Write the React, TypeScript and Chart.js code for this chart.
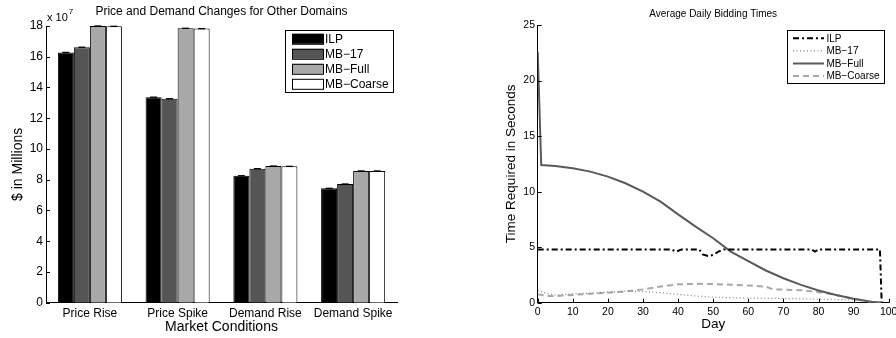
import React, { useEffect, useRef } from "react";
import { Chart, registerables } from "chart.js";

Chart.register(...registerables);

// ---------- Left chart data (values in units of 10^7 $) ----------
const categories = ["Price Rise", "Price Spike", "Demand Rise", "Demand Spike"];
const seriesNames = ["ILP", "MB\u221217", "MB\u2212Full", "MB\u2212Coarse"];
const ilpValues = [16.28, 13.37, 8.26, 7.44];
const mb17Values = [16.62, 13.27, 8.72, 7.72];
const mbFullValues = [18.0, 17.85, 8.89, 8.57];
const mbCoarseValues = [17.98, 17.83, 8.87, 8.57];
const barYTicks = [0, 2, 4, 6, 8, 10, 12, 14, 16, 18];

// ---------- Right chart data ----------
const ilpDays = [0, 38, 39.5, 41, 46, 47, 48.5, 50, 51.5, 53, 78, 79, 80, 97.5, 98];
const ilpTimes = [4.8, 4.8, 4.6, 4.8, 4.8, 4.35, 4.2, 4.3, 4.6, 4.8, 4.8, 4.6, 4.8, 4.8, 0];
const mb17Days = [0, 3, 5, 10, 15, 20, 25, 30, 35, 40, 45, 50, 55, 60, 70, 80, 90, 95, 98];
const mb17Times = [1.1, 0.8, 0.7, 0.8, 0.85, 0.95, 1.05, 1.0, 0.9, 0.75, 0.6, 0.5, 0.45, 0.42, 0.38, 0.32, 0.25, 0.1, 0];
const mbFullDays = [0, 1, 5, 10, 15, 20, 25, 30, 35, 40, 45, 50, 55, 60, 65, 70, 75, 80, 85, 90, 95, 98];
const mbFullTimes = [22.6, 12.4, 12.3, 12.1, 11.8, 11.35, 10.75, 10.0, 9.1, 7.95, 6.85, 5.8, 4.6, 3.75, 2.9, 2.2, 1.6, 1.1, 0.7, 0.35, 0.08, 0];
const mbCoarseDays = [0, 3, 5, 10, 15, 20, 25, 30, 35, 40, 45, 50, 55, 60, 65, 67, 70, 75, 80, 85, 90, 95, 98];
const mbCoarseTimes = [0.75, 0.6, 0.6, 0.7, 0.8, 0.9, 1.0, 1.2, 1.45, 1.65, 1.7, 1.68, 1.62, 1.55, 1.45, 1.2, 1.18, 1.12, 0.95, 0.7, 0.35, 0.06, 0];
const lineXTicks = [0, 10, 20, 30, 40, 50, 60, 70, 80, 90, 100];
const lineYTicks = [0, 5, 10, 15, 20, 25];

// ---------- Styles ----------
const FONT = "'Liberation Sans', Arial, Helvetica, sans-serif";
const barColors = ["#000000", "#555555", "#a8a8a8", "#ffffff"];
const lineColors = ["#000000", "#808080", "#5a5a5a", "#a8a8a8"];
const lineDashes = [[6, 3, 2, 3], [1, 2.5], [], [6, 4]];
const lineWidths = [2, 1.2, 2, 2];

const W = 896;
const H = 338;

function toPoints(xs: number[], ys: number[]) {
  return xs.map((x, i) => ({ x, y: ys[i] }));
}

function drawInwardTicks(chart: any, xTicks: number[] | null, yTicks: number[]) {
  const { ctx, chartArea, scales } = chart;
  ctx.save();
  ctx.strokeStyle = "#000";
  ctx.lineWidth = 1;
  ctx.beginPath();
  for (const v of yTicks) {
    const y = Math.round(scales.y.getPixelForValue(v)) + 0.5;
    ctx.moveTo(chartArea.left, y);
    ctx.lineTo(chartArea.left + 4, y);
  }
  if (xTicks) {
    for (const v of xTicks) {
      const x = Math.round(scales.x.getPixelForValue(v)) + 0.5;
      ctx.moveTo(x, chartArea.bottom);
      ctx.lineTo(x, chartArea.bottom - 4);
    }
  }
  ctx.stroke();
  ctx.restore();
}

const leftExtras = {
  id: "leftExtras",
  afterDatasetsDraw(chart: any) {
    const { ctx } = chart;
    ctx.save();
    ctx.strokeStyle = "#000";
    ctx.lineWidth = 1.3;
    chart.data.datasets.forEach((_: any, di: number) => {
      const meta = chart.getDatasetMeta(di);
      meta.data.forEach((bar: any) => {
        ctx.beginPath();
        ctx.moveTo(bar.x - 3.5, bar.y);
        ctx.lineTo(bar.x + 3.5, bar.y);
        ctx.stroke();
      });
    });
    ctx.restore();
  },
  afterDraw(chart: any) {
    const { ctx, chartArea } = chart;
    drawInwardTicks(chart, null, barYTicks);
    // exponent label
    ctx.save();
    ctx.fillStyle = "#000";
    ctx.textBaseline = "alphabetic";
    ctx.textAlign = "left";
    ctx.font = `11px ${FONT}`;
    const base = "x 10";
    ctx.fillText(base, chartArea.left + 1, 21);
    const bw = ctx.measureText(base).width;
    ctx.font = `8px ${FONT}`;
    ctx.fillText("7", chartArea.left + 1 + bw + 1, 14);
    // legend
    const lx = 285.5, ly = 30.5, lw = 108, lh = 62;
    ctx.fillStyle = "#fff";
    ctx.fillRect(lx, ly, lw, lh);
    ctx.strokeStyle = "#000";
    ctx.lineWidth = 1;
    ctx.strokeRect(lx, ly, lw, lh);
    ctx.font = `12px ${FONT}`;
    ctx.textBaseline = "middle";
    chart.data.datasets.forEach((ds: any, i: number) => {
      const cy = 38.8 + i * 15;
      ctx.fillStyle = ds.backgroundColor;
      ctx.fillRect(292, cy - 5, 31, 10);
      ctx.strokeStyle = "#000";
      ctx.strokeRect(292.5, cy - 5 + 0.5, 31, 10);
      ctx.fillStyle = "#000";
      ctx.fillText(ds.label, 325, cy + 0.5);
    });
    ctx.restore();
  },
};

const rightExtras = {
  id: "rightExtras",
  afterDraw(chart: any) {
    const { ctx } = chart;
    drawInwardTicks(chart, lineXTicks, lineYTicks);
    const lx = 787.5, ly = 30.5, lw = 97, lh = 53;
    ctx.save();
    ctx.fillStyle = "#fff";
    ctx.fillRect(lx, ly, lw, lh);
    ctx.strokeStyle = "#000";
    ctx.lineWidth = 1;
    ctx.strokeRect(lx, ly, lw, lh);
    ctx.font = `10px ${FONT}`;
    ctx.textBaseline = "middle";
    ctx.textAlign = "left";
    chart.data.datasets.forEach((ds: any, i: number) => {
      const cy = 38.3 + i * 12.6;
      ctx.save();
      ctx.strokeStyle = ds.borderColor;
      ctx.lineWidth = ds.borderWidth;
      ctx.setLineDash(ds.borderDash || []);
      ctx.beginPath();
      ctx.moveTo(793, cy);
      ctx.lineTo(824, cy);
      ctx.stroke();
      ctx.restore();
      ctx.fillStyle = "#000";
      ctx.fillText(ds.label, 826.5, cy + 0.5);
    });
    ctx.restore();
  },
};

export default function App() {
  const leftRef = useRef<HTMLCanvasElement>(null);
  const rightRef = useRef<HTMLCanvasElement>(null);

  useEffect(() => {
    const barValues = [ilpValues, mb17Values, mbFullValues, mbCoarseValues];
    const left = new Chart(leftRef.current as HTMLCanvasElement, {
      type: "bar",
      data: {
        labels: categories,
        datasets: seriesNames.map((name, i) => ({
          label: name,
          data: barValues[i],
          backgroundColor: barColors[i],
          borderColor: "#000",
          borderWidth: 1,
          barPercentage: 1,
          categoryPercentage: 0.73,
        })),
      },
      options: {
        animation: false,
        responsive: false,
        devicePixelRatio: 1,
        events: [],
        layout: { padding: { left: 0, right: 499, top: 0, bottom: 0 } },
        plugins: {
          legend: { display: false },
          tooltip: { enabled: false },
          title: {
            display: true,
            text: "Price and Demand Changes for Other Domains",
            fullSize: false,
            color: "#000",
            font: { family: FONT, size: 12, weight: "normal" },
            padding: { top: 4.8, bottom: 6.8 },
          },
        },
        scales: {
          x: {
            type: "category",
            offset: true,
            grid: { display: false, drawTicks: false },
            border: { display: true, color: "#000", width: 1 },
            ticks: { color: "#000", font: { family: FONT, size: 12 }, padding: 3.4, maxRotation: 0, autoSkip: false },
            title: {
              display: true,
              text: "Market Conditions",
              color: "#000",
              font: { family: FONT, size: 14 },
              padding: { top: 0, bottom: 2.6 },
            },
            afterFit: (s: any) => {
              s.height = 35.3;
              s.paddingLeft = 0;
              s.paddingRight = 0;
            },
          },
          y: {
            type: "linear",
            min: 0,
            max: 18,
            afterBuildTicks: (s: any) => {
              s.ticks = barYTicks.map((v) => ({ value: v }));
            },
            grid: { display: false, drawTicks: false },
            border: { display: true, color: "#000", width: 1 },
            ticks: { color: "#000", font: { family: FONT, size: 12 }, padding: 3 },
            title: {
              display: true,
              text: "$ in Millions",
              color: "#000",
              font: { family: FONT, size: 14 },
              padding: { top: 9.6, bottom: 0 },
            },
            afterFit: (s: any) => {
              s.width = 46;
              s.paddingTop = 0;
              s.paddingBottom = 0;
            },
          },
        },
      } as any,
      plugins: [leftExtras],
    });

    const lineSeries = [
      toPoints(ilpDays, ilpTimes),
      toPoints(mb17Days, mb17Times),
      toPoints(mbFullDays, mbFullTimes),
      toPoints(mbCoarseDays, mbCoarseTimes),
    ];
    const right = new Chart(rightRef.current as HTMLCanvasElement, {
      type: "line",
      data: {
        datasets: seriesNames.map((name, i) => ({
          label: name,
          data: lineSeries[i],
          borderColor: lineColors[i],
          backgroundColor: lineColors[i],
          borderWidth: lineWidths[i],
          borderDash: lineDashes[i],
          pointRadius: 0,
          tension: 0,
          fill: false,
        })),
      },
      options: {
        animation: false,
        responsive: false,
        devicePixelRatio: 1,
        events: [],
        layout: { padding: { left: 448, right: 7.3, top: 0, bottom: 0 } },
        plugins: {
          legend: { display: false },
          tooltip: { enabled: false },
          title: {
            display: true,
            text: "Average Daily Bidding Times",
            fullSize: false,
            color: "#000",
            font: { family: FONT, size: 10, weight: "normal" },
            padding: { top: 8, bottom: 5 },
          },
        },
        scales: {
          x: {
            type: "linear",
            min: 0,
            max: 100,
            afterBuildTicks: (s: any) => {
              s.ticks = lineXTicks.map((v) => ({ value: v }));
            },
            grid: { display: false, drawTicks: false },
            border: { display: true, color: "#000", width: 1 },
            ticks: { color: "#000", font: { family: FONT, size: 10.5 }, padding: 3, maxRotation: 0, autoSkip: false },
            title: {
              display: true,
              text: "Day",
              color: "#000",
              font: { family: FONT, size: 13.5 },
              padding: { top: 0, bottom: 5.4 },
            },
            afterFit: (s: any) => {
              s.height = 35.3;
              s.paddingLeft = 0;
              s.paddingRight = 0;
            },
          },
          y: {
            type: "linear",
            min: 0,
            max: 25,
            afterBuildTicks: (s: any) => {
              s.ticks = lineYTicks.map((v) => ({ value: v }));
            },
            grid: { display: false, drawTicks: false },
            border: { display: true, color: "#000", width: 1 },
            ticks: { color: "#000", font: { family: FONT, size: 10.5 }, padding: 2.7 },
            title: {
              display: true,
              text: "Time Required in Seconds",
              color: "#000",
              font: { family: FONT, size: 13.5 },
              padding: { top: 54.9, bottom: 0 },
            },
            afterFit: (s: any) => {
              s.width = 89.7;
              s.paddingTop = 0;
              s.paddingBottom = 0;
            },
          },
        },
      } as any,
      plugins: [rightExtras],
    });

    return () => {
      left.destroy();
      right.destroy();
    };
  }, []);

  return (
    <div style={{ position: "fixed", left: 0, top: 0, width: W, height: H, background: "#fff" }}>
      <canvas ref={leftRef} width={W} height={H} style={{ position: "absolute", left: 0, top: 0, width: W, height: H }} />
      <canvas ref={rightRef} width={W} height={H} style={{ position: "absolute", left: 0, top: 0, width: W, height: H }} />
    </div>
  );
}
